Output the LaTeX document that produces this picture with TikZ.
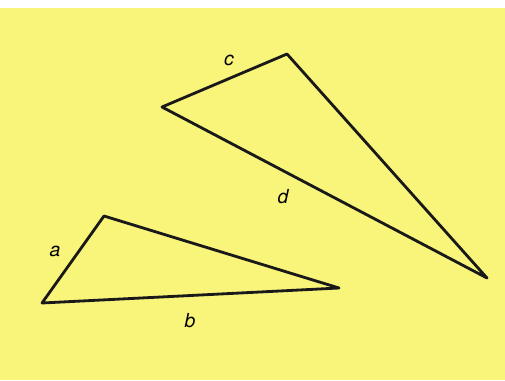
\documentclass[tikz,border=0pt]{standalone}
\usepackage{fontspec}
\setsansfont{TeX Gyre Heros}
\usetikzlibrary{calc}
\definecolor{paper}{RGB}{249,244,122}

\begin{document}
\begin{tikzpicture}[x=0.02cm,y=-0.02cm,font=\sffamily\itshape\fontsize{11}{13}\selectfont,
  every node/.style={inner sep=1pt},side/.style={line width=1.6pt,line join=round,black!90}]
  \useasboundingbox (0,0) rectangle (505,380);
  \fill[paper] (0,8) rectangle (505,380);
  % lower triangle
  \coordinate (a1) at (42,303);
  \coordinate (a2) at (104,216);
  \coordinate (a3) at (339,288);
  % upper triangle
  \coordinate (c1) at (162,107);
  \coordinate (c2) at (287,54);
  \coordinate (c3) at (487,278);
  \draw[side] (a1)--(a2)--(a3)--cycle;
  \draw[side] (c1)--(c2)--(c3)--cycle;
  \node (la) at (55,251) {a};
  \node (lb) at (190,321) {b};
  \node (lc) at (229,60) {c};
  \node (ld) at (283,197) {d};
\end{tikzpicture}
\end{document}
